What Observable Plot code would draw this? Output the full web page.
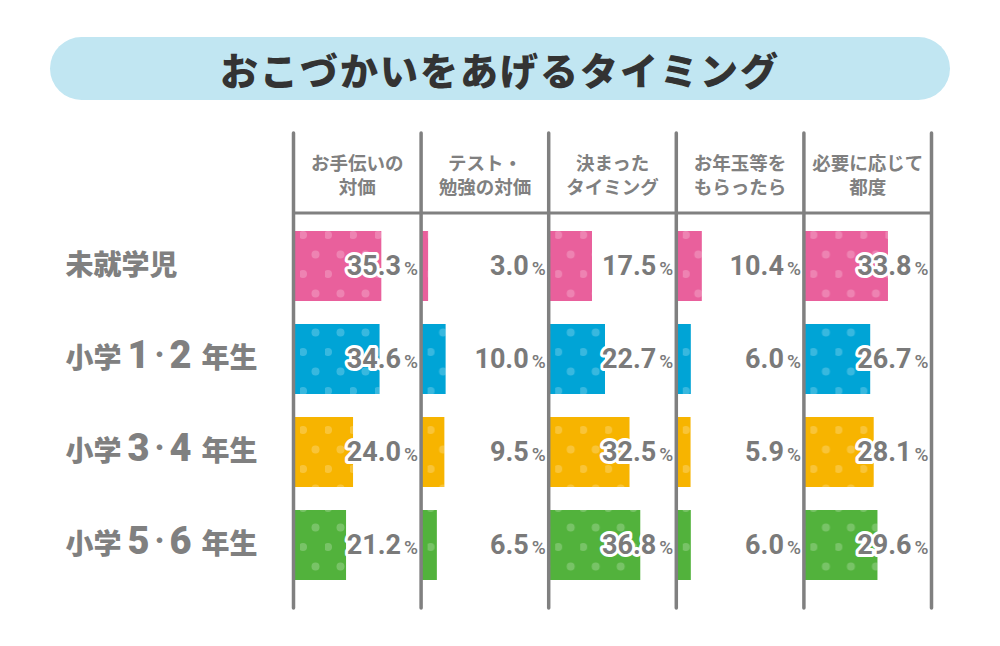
<!DOCTYPE html>
<html>
<head>
<meta charset="utf-8">
<script src="https://cdn.jsdelivr.net/npm/d3@7"></script>
<script src="https://cdn.jsdelivr.net/npm/@observablehq/plot@0.6"></script>
<style>
  html, body { margin: 0; padding: 0; background: #fff; width: 1000px; height: 646px; overflow: hidden; }
  #title {
    position: absolute; left: 50px; top: 37px; width: 900px; height: 63px;
    background: #c1e6f2; border-radius: 32px;
    font-family: "Noto Sans CJK JP", sans-serif; font-weight: 900; font-size: 38px;
    color: #333; text-align: center; line-height: 63px; letter-spacing: 2px;
  }
  #chart { position: absolute; left: 0; top: 110px; }
</style>
</head>
<body>
<div id="title">おこづかいをあげるタイミング</div>
<div id="chart"></div>
<script>
const columns = ["お手伝いの\n対価", "テスト・\n勉強の対価", "決まった\nタイミング", "お年玉等を\nもらったら", "必要に応じて\n都度"];
const groups = ["未就学児", "小学1・2年生", "小学3・4年生", "小学5・6年生"];
const preschool = [35.3, 3.0, 17.5, 10.4, 33.8];
const grade12 = [34.6, 10.0, 22.7, 6.0, 26.7];
const grade34 = [24.0, 9.5, 32.5, 5.9, 28.1];
const grade56 = [21.2, 6.5, 36.8, 6.0, 29.6];
const colors = ["#e9609c", "#00a4d6", "#f7b400", "#52b23c"];

const series = [preschool, grade12, grade34, grade56];
const data = [];
groups.forEach((g, gi) => columns.forEach((c, ci) => data.push({group: g, column: c, value: series[gi][ci]})));

const gray = "#808080";
const chart = Plot.plot({
  width: 1000, height: 536,
  marginLeft: 293, marginRight: 69, marginTop: 23, marginBottom: 38,
  style: {fontFamily: "'Noto Sans CJK JP', sans-serif", background: "transparent"},
  fx: {domain: columns, padding: 0, round: false, axis: null},
  x: {domain: [0, 51], axis: null},
  y: {domain: groups, range: [110, 482], paddingInner: 0.247, paddingOuter: 0.1235, axis: null},
  color: {domain: groups, range: colors},
  marks: [
    Plot.barX(data, {fx: "column", y: "group", x: "value", fill: "group"}),
    Plot.barX(data, {fx: "column", y: "group", x: "value", fill: "#fffffe"}),
    Plot.rect(columns, {fx: d => d, insetTop: 78.5, insetBottom: 393.5, fill: gray}),
    Plot.ruleX(columns, {fx: d => d, x: () => 0, stroke: gray, strokeWidth: 3.5, strokeLinecap: "round"}),
    Plot.ruleX([columns[columns.length - 1]], {fx: d => d, x: () => 51, stroke: gray, strokeWidth: 3.5, strokeLinecap: "round"}),
    Plot.text(columns, {fx: d => d, text: d => d, frameAnchor: "top", dy: 41, lineAnchor: "middle", lineHeight: 1.28, fontSize: 18.5, fontWeight: 700, fill: gray}),
    Plot.text(data, {fx: "column", y: "group", text: d => d.value.toFixed(1), frameAnchor: "right", textAnchor: "end", dx: -20, fontSize: 27, fontWeight: 700, fontFamily: "Roboto, sans-serif", fill: "#7a7a7a", stroke: "white", strokeWidth: 6, strokeLinejoin: "round"}),
    Plot.text(data, {fx: "column", y: "group", text: () => "%", frameAnchor: "right", textAnchor: "end", dx: -3, dy: 2, fontSize: 19, fontWeight: 500, fontFamily: "Roboto, sans-serif", fill: "#7a7a7a"}),
    Plot.text(groups, {fx: () => columns[0], y: d => d, text: d => d, frameAnchor: "left", textAnchor: "start", dx: 65 - 293, fontSize: 28, fontWeight: 900, fill: gray})
  ]
});

// dot pattern
const ns = "http://www.w3.org/2000/svg";
const defs = document.createElementNS(ns, "defs");
const pat = document.createElementNS(ns, "pattern");
pat.setAttribute("id", "dots");
pat.setAttribute("patternUnits", "userSpaceOnUse");
pat.setAttribute("width", "25");
pat.setAttribute("height", "39");
pat.setAttribute("x", "0");
pat.setAttribute("y", "4");
[[3, 4], [15.5, 23.5]].forEach(([cx, cy]) => {
  const c = document.createElementNS(ns, "circle");
  c.setAttribute("cx", cx); c.setAttribute("cy", cy); c.setAttribute("r", 4);
  c.setAttribute("fill", "white"); c.setAttribute("fill-opacity", "0.22");
  pat.appendChild(c);
});
defs.appendChild(pat);
chart.insertBefore(defs, chart.firstChild);
chart.querySelectorAll('[fill="#fffffe"]').forEach(el => el.setAttribute("fill", "url(#dots)"));

// row labels: larger digits, compact raised dot
chart.querySelectorAll("text").forEach(t => {
  const s = t.textContent;
  const m = s.match(/^(小学)(\d)(・)(\d)(年生)$/);
  if (m) {
    t.textContent = "";
    const parts = [
      [m[1], 28, null, 0, 0],
      [m[2], 38, "Roboto, sans-serif", 6, 0],
      [m[3], 20, null, 0, -6],
      [m[4], 38, "Roboto, sans-serif", 0, 6],
      [m[5], 28, null, 10, 0]
    ];
    parts.forEach(([str, size, fam, dx, dy]) => {
      const ts = document.createElementNS(ns, "tspan");
      ts.textContent = str;
      ts.setAttribute("font-size", size);
      if (fam) ts.setAttribute("font-family", fam);
      if (dx) ts.setAttribute("dx", dx);
      if (dy) ts.setAttribute("dy", dy);
      t.appendChild(ts);
    });
  }
});

document.getElementById("chart").appendChild(chart);
</script>
</body>
</html>
